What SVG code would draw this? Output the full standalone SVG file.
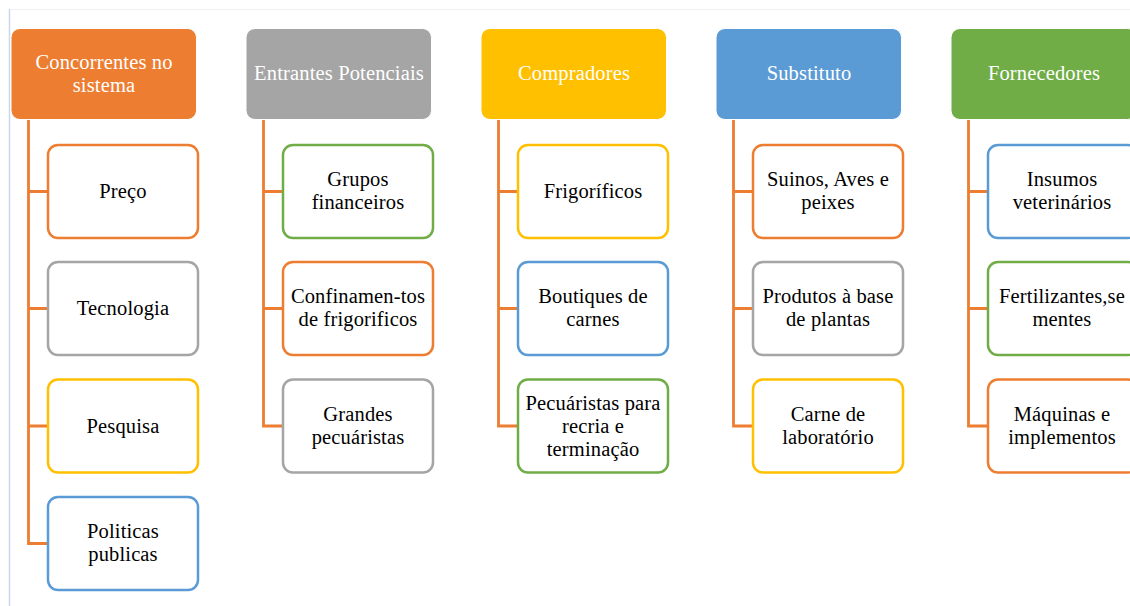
<svg xmlns="http://www.w3.org/2000/svg" width="1130" height="606" viewBox="0 0 1130 606">
<style>
.hd{stroke:#ffffff;stroke-width:1}
.ch{fill:#ffffff;stroke-width:2.5}
.ht{font-family:"Liberation Serif","Times New Roman",serif;font-size:20.5px;fill:#ffffff;text-anchor:middle;letter-spacing:0.15px}
.ct{font-family:"Liberation Serif","Times New Roman",serif;font-size:20.5px;fill:#000000;text-anchor:middle;letter-spacing:0.15px}
.cn{fill:none;stroke:#ED7D31;stroke-width:2.8}
.o{stroke:#ED7D31}.g{stroke:#A5A5A5}.y{stroke:#FFC000}.b{stroke:#5B9BD5}.gr{stroke:#70AD47}
</style>
<rect width="1130" height="606" fill="#ffffff"/>
<line x1="9" y1="9.5" x2="1130" y2="9.5" stroke="#f0f0f2" stroke-width="1"/>
<line x1="9.5" y1="9" x2="9.5" y2="606" stroke="#c9d6ec" stroke-width="1.5"/>
<g id="connectors">
<path class="cn" d="M28.5 119V543.5H48M28.5 191.5H48M28.5 308.5H48M28.5 426H48"/>
<path class="cn" d="M263.5 119V426H283M263.5 191.5H283M263.5 308.5H283"/>
<path class="cn" d="M498.5 119V426H518M498.5 191.5H518M498.5 308.5H518"/>
<path class="cn" d="M733.5 119V426H753M733.5 191.5H753M733.5 308.5H753"/>
<path class="cn" d="M968.5 119V426H988M968.5 191.5H988M968.5 308.5H988"/>
</g>
<g id="h1"><rect class="hd" x="11" y="28.5" width="185.5" height="91" rx="9" fill="#ED7D31"/><text class="ht" x="104" y="69">Concorrentes no<tspan x="104" dy="23">sistema</tspan></text></g>
<g id="h2"><rect class="hd" x="246" y="28.5" width="185.5" height="91" rx="9" fill="#A5A5A5"/><text class="ht" x="339" y="80">Entrantes Potenciais</text></g>
<g id="h3"><rect class="hd" x="481" y="28.5" width="185.5" height="91" rx="9" fill="#FFC000"/><text class="ht" x="574" y="80">Compradores</text></g>
<g id="h4"><rect class="hd" x="716" y="28.5" width="185.5" height="91" rx="9" fill="#5B9BD5"/><text class="ht" x="809" y="80">Substituto</text></g>
<g id="h5"><rect class="hd" x="951" y="28.5" width="185.5" height="91" rx="9" fill="#70AD47"/><text class="ht" x="1044" y="80">Fornecedores</text></g>

<g id="c1a"><rect class="ch o" x="48" y="145" width="150" height="93" rx="10"/><text class="ct" x="123" y="198">Preço</text></g>
<g id="c1b"><rect class="ch g" x="48" y="262" width="150" height="93" rx="10"/><text class="ct" x="123" y="315">Tecnologia</text></g>
<g id="c1c"><rect class="ch y" x="48" y="379.5" width="150" height="93" rx="10"/><text class="ct" x="123" y="432.5">Pesquisa</text></g>
<g id="c1d"><rect class="ch b" x="48" y="497" width="150" height="93" rx="10"/><text class="ct" x="123" y="538">Politicas<tspan x="123" dy="23">publicas</tspan></text></g>

<g id="c2a"><rect class="ch gr" x="283" y="145" width="150" height="93" rx="10"/><text class="ct" x="358" y="186">Grupos<tspan x="358" dy="23">financeiros</tspan></text></g>
<g id="c2b"><rect class="ch o" x="283" y="262" width="150" height="93" rx="10"/><text class="ct" x="358" y="303">Confinamen-tos<tspan x="358" dy="23">de frigorificos</tspan></text></g>
<g id="c2c"><rect class="ch g" x="283" y="379.5" width="150" height="93" rx="10"/><text class="ct" x="358" y="420.5">Grandes<tspan x="358" dy="23">pecuáristas</tspan></text></g>

<g id="c3a"><rect class="ch y" x="518" y="145" width="150" height="93" rx="10"/><text class="ct" x="593" y="198">Frigoríficos</text></g>
<g id="c3b"><rect class="ch b" x="518" y="262" width="150" height="93" rx="10"/><text class="ct" x="593" y="303">Boutiques de<tspan x="593" dy="23">carnes</tspan></text></g>
<g id="c3c"><rect class="ch gr" x="518" y="379.5" width="150" height="93" rx="10"/><text class="ct" x="593" y="410">Pecuáristas para<tspan x="593" dy="23">recria e</tspan><tspan x="593" dy="23">terminação</tspan></text></g>

<g id="c4a"><rect class="ch o" x="753" y="145" width="150" height="93" rx="10"/><text class="ct" x="828" y="186">Suinos, Aves e<tspan x="828" dy="23">peixes</tspan></text></g>
<g id="c4b"><rect class="ch g" x="753" y="262" width="150" height="93" rx="10"/><text class="ct" x="828" y="303">Produtos à base<tspan x="828" dy="23">de plantas</tspan></text></g>
<g id="c4c"><rect class="ch y" x="753" y="379.5" width="150" height="93" rx="10"/><text class="ct" x="828" y="420.5">Carne de<tspan x="828" dy="23">laboratório</tspan></text></g>

<g id="c5a"><rect class="ch b" x="988" y="145" width="150" height="93" rx="10"/><text class="ct" x="1062" y="186">Insumos<tspan x="1062" dy="23">veterinários</tspan></text></g>
<g id="c5b"><rect class="ch gr" x="988" y="262" width="150" height="93" rx="10"/><text class="ct" x="1062" y="303">Fertilizantes,se<tspan x="1062" dy="23">mentes</tspan></text></g>
<g id="c5c"><rect class="ch o" x="988" y="379.5" width="150" height="93" rx="10"/><text class="ct" x="1062" y="420.5">Máquinas e<tspan x="1062" dy="23">implementos</tspan></text></g>
</svg>
